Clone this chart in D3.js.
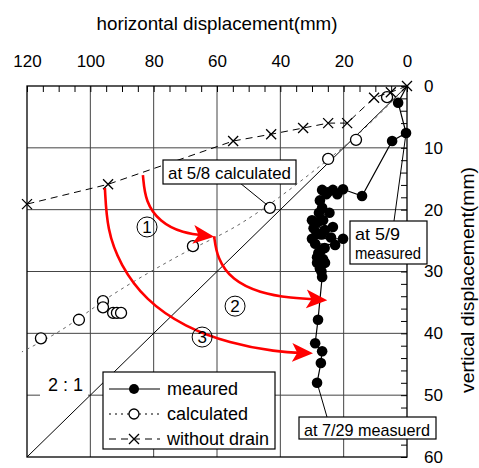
<!DOCTYPE html>
<html>
<head>
<meta charset="utf-8">
<title>displacement path</title>
<script src="https://cdn.jsdelivr.net/npm/d3@7"></script>
<style>
body { margin: 0; background: #fff; }
text { font-family: "Liberation Sans", Arial, sans-serif; }
</style>
</head>
<body>
<script>
// all values in mm: H = horizontal displacement, V = vertical displacement
var measH = [0, 2.8, 0.3, 4.7, 14.2, 20.2, 23.4, 25.0, 26.8, 22.0, 25.5, 27.5, 26.8, 27.8, 24.5, 30.0, 26.5, 28.1, 29.5, 23.4, 25.9, 28.5, 27.0, 24.0, 30.0, 20.2, 22.7, 29.0, 26.0, 27.0, 28.4, 28.0, 25.9, 26.5, 28.4, 27.5, 27.0, 26.8, 28.1, 29.0, 26.8, 27.2, 28.4];
var measV = [0, 2.7, 7.6, 8.9, 17.8, 16.7, 16.8, 17.2, 16.8, 17.5, 17.5, 18.5, 19.7, 20.5, 20.5, 21.7, 21.7, 22.0, 23.0, 22.8, 23.3, 23.8, 24.0, 24.5, 24.7, 24.7, 25.7, 25.5, 26.2, 26.5, 27.7, 27.0, 28.6, 28.0, 28.6, 29.5, 30.0, 30.9, 37.8, 41.6, 42.9, 44.8, 48.0];

var calcH = [6.3, 16.1, 24.9, 43.3, 67.6, 96.0, 96.0, 92.8, 91.6, 90.3, 103.6, 115.6];
var calcV = [1.8, 8.7, 11.8, 19.7, 25.9, 34.8, 35.8, 36.7, 36.7, 36.7, 37.8, 40.8];
var calcCurveH = [0, 13.3, 30.6, 52.4, 73.3, 92.2, 110.2, 121.6];
var calcCurveV = [0, 6.8, 14.2, 22.2, 27.8, 33.5, 39.8, 43.0];

var noDrainH = [0, 5.1, 10.4, 18.9, 24.9, 32.8, 42.9, 54.9, 94.4, 120];
var noDrainV = [0, 1.0, 1.9, 6.0, 6.0, 6.8, 7.8, 8.9, 15.9, 19.1];

var ratioH = [0, 120];
var ratioV = [0, 60];

var xTicks = [0, 20, 40, 60, 80, 100, 120];
var yTicks = [0, 10, 20, 30, 40, 50, 60];

// red arrows (sketched paths), in mm
var arrows = [
  {h: [83.4, 82.6, 78.0, 71.1, 62.2], v: [14.4, 18.8, 22.0, 23.8, 24.3]},
  {h: [60.9, 60.0, 55.3, 46.4, 36.9, 26.5], v: [24.3, 27.8, 31.4, 33.5, 34.3, 34.6]},
  {h: [95.4, 94.7, 90.6, 82.7, 70.1, 55.9, 41.7, 31.0], v: [16.5, 23.3, 28.9, 34.6, 39.0, 41.6, 43.0, 43.2]}
];
var zoneNames = ["1", "2", "3"];
var zoneH = [82.1, 54.3, 64.7];
var zoneV = [22.8, 35.6, 40.6];

var W = 479, H = 468;
var pL = 27, pR = 407, pT = 86, pB = 457;

var svg = d3.select("body").append("svg")
  .attr("width", W).attr("height", H);

var x = d3.scaleLinear().domain([120, 0]).range([pL, pR]);
var y = d3.scaleLinear().domain([0, 60]).range([pT, pB]);

function pts(hs, vs) { return hs.map(function(h, i) { return [h, vs[i]]; }); }
var line = d3.line().x(function(d) { return x(d[0]); }).y(function(d) { return y(d[1]); });

// grid
svg.append("g").selectAll("line").data(xTicks.slice(1, -1)).enter().append("line")
  .attr("x1", x).attr("x2", x).attr("y1", pT).attr("y2", pB)
  .attr("stroke", "#444").attr("stroke-width", 1);
svg.append("g").selectAll("line").data(yTicks.slice(1, -1)).enter().append("line")
  .attr("y1", y).attr("y2", y).attr("x1", pL).attr("x2", pR)
  .attr("stroke", "#444").attr("stroke-width", 1);

// axes
var topAxis = d3.axisTop(x).tickValues(d3.range(0, 121, 5))
  .tickSizeInner(-6).tickSizeOuter(0).tickPadding(19)
  .tickFormat(function(d) { return d % 20 === 0 ? d : ""; });
var gt = svg.append("g").attr("transform", "translate(0," + pT + ")").call(topAxis);
gt.select(".domain").remove();
gt.selectAll("text").attr("font-size", 17).attr("font-family", "Liberation Sans, Arial, sans-serif").attr("fill", "#000");

var rightAxis = d3.axisRight(y).tickValues(d3.range(0, 61, 2))
  .tickSizeInner(-6).tickSizeOuter(0).tickPadding(17)
  .tickFormat(function(d) { return d % 10 === 0 ? d : ""; });
var gr = svg.append("g").attr("transform", "translate(" + pR + ",0)").call(rightAxis);
gr.select(".domain").remove();
gr.selectAll("text").attr("font-size", 17).attr("font-family", "Liberation Sans, Arial, sans-serif").attr("fill", "#000");

svg.append("rect").attr("x", pL).attr("y", pT).attr("width", pR - pL).attr("height", pB - pT)
  .attr("fill", "none").attr("stroke", "#000").attr("stroke-width", 1.3);

// 2:1 line
svg.append("path").attr("d", line(pts(ratioH, ratioV)))
  .attr("stroke", "#000").attr("stroke-width", 1).attr("fill", "none");
svg.append("rect").attr("x", 40).attr("y", 370).attr("width", 48).attr("height", 26).attr("fill", "#fff");
svg.append("text").attr("x", 48).attr("y", 391).text("2 : 1")
  .attr("font-family", "Liberation Serif, serif").attr("font-size", 18);

// calculated curve + points
svg.append("path").attr("d", line.curve(d3.curveMonotoneX)(pts(calcCurveH, calcCurveV)))
  .attr("stroke", "#666").attr("stroke-width", 1).attr("stroke-dasharray", "3,4").attr("fill", "none");
line.curve(d3.curveLinear);
svg.append("g").selectAll("circle").data(pts(calcH, calcV)).enter().append("circle")
  .attr("cx", function(d) { return x(d[0]); }).attr("cy", function(d) { return y(d[1]); })
  .attr("r", 5.5).attr("fill", "#fff").attr("stroke", "#000").attr("stroke-width", 1.3);

// without drain
svg.append("path").attr("d", line(pts(noDrainH, noDrainV)))
  .attr("stroke", "#000").attr("stroke-width", 1).attr("stroke-dasharray", "7,5").attr("fill", "none");
function cross(g, cx, cy, s) {
  g.append("path").attr("d", "M" + (cx - s) + "," + (cy - s) + "L" + (cx + s) + "," + (cy + s) +
    "M" + (cx - s) + "," + (cy + s) + "L" + (cx + s) + "," + (cy - s))
    .attr("stroke", "#000").attr("stroke-width", 1.3).attr("fill", "none");
}
var gx = svg.append("g");
pts(noDrainH, noDrainV).forEach(function(d) { cross(gx, x(d[0]), y(d[1]), 5); });

// measured
svg.append("path").attr("d", line(pts(measH, measV)))
  .attr("stroke", "#000").attr("stroke-width", 1.2).attr("fill", "none");
svg.append("g").selectAll("circle").data(pts(measH, measV).slice(1)).enter().append("circle")
  .attr("cx", function(d) { return x(d[0]); }).attr("cy", function(d) { return y(d[1]); })
  .attr("r", 5.3).attr("fill", "#000");

// red arrows
svg.append("defs").append("marker").attr("id", "ah")
  .attr("viewBox", "0 0 20 20").attr("refX", 16).attr("refY", 10)
  .attr("markerWidth", 21).attr("markerHeight", 21).attr("markerUnits", "userSpaceOnUse")
  .attr("orient", "auto")
  .append("path").attr("d", "M0,1 L20,10 L0,19 L5,10 Z").attr("fill", "#f00");
var curved = d3.line().x(function(d) { return x(d[0]); }).y(function(d) { return y(d[1]); }).curve(d3.curveBasis);
arrows.forEach(function(a) {
  svg.append("path").attr("d", curved(pts(a.h, a.v)))
    .attr("stroke", "#f00").attr("stroke-width", 2.6).attr("fill", "none")
    .attr("marker-end", "url(#ah)");
});
zoneNames.forEach(function(n, i) {
  svg.append("circle").attr("cx", x(zoneH[i])).attr("cy", y(zoneV[i])).attr("r", 10)
    .attr("fill", "none").attr("stroke", "#000").attr("stroke-width", 1);
  svg.append("text").attr("x", x(zoneH[i])).attr("y", y(zoneV[i]) + 6).text(n)
    .attr("text-anchor", "middle").attr("font-family", "Liberation Serif, serif").attr("font-size", 17);
});

// callout labels
function callout(bx, by, bw, bh, lines, tl) {
  svg.append("rect").attr("x", bx).attr("y", by).attr("width", bw).attr("height", bh)
    .attr("fill", "#fff").attr("stroke", "#000").attr("stroke-width", 1.2);
  lines.forEach(function(s, i) {
    svg.append("text").attr("x", bx + 5).attr("y", by + 19 + i * 19).text(s)
      .attr("font-family", "DejaVu Sans Condensed, DejaVu Sans, sans-serif").attr("font-size", 17)
      .attr("textLength", tl[i]).attr("lengthAdjust", "spacingAndGlyphs");
  });
}
svg.append("line").attr("x1", 240).attr("y1", 183).attr("x2", x(calcH[3]) - 3).attr("y2", y(calcV[3]) - 3)
  .attr("stroke", "#000").attr("stroke-width", 1);
callout(163, 160, 133, 24, ["at 5/8 calculated"], [123]);
svg.append("line").attr("x1", 394).attr("y1", 221).attr("x2", x(measH[2])).attr("y2", y(measV[2]))
  .attr("stroke", "#000").attr("stroke-width", 1);
callout(350, 221, 77, 43, ["at 5/9", "measured"], [45, 66]);
svg.append("line").attr("x1", 327).attr("y1", 417).attr("x2", x(measH[measH.length - 1])).attr("y2", y(measV[measV.length - 1]))
  .attr("stroke", "#000").attr("stroke-width", 1);
callout(299, 417, 137, 22, ["at 7/29 measuerd"], [126]);

// legend
var lg = svg.append("g");
lg.append("rect").attr("x", 103).attr("y", 372).attr("width", 172).attr("height", 77)
  .attr("fill", "#fff").attr("stroke", "#000").attr("stroke-width", 1.2);
var legNames = ["meaured", "calculated", "without drain"];
var legY = [389, 414, 439];
var legDash = [null, "2,4", "7,5"];
legNames.forEach(function(n, i) {
  lg.append("line").attr("x1", 109).attr("x2", 160).attr("y1", legY[i]).attr("y2", legY[i])
    .attr("stroke", "#000").attr("stroke-width", 1.2).attr("stroke-dasharray", legDash[i]);
  lg.append("text").attr("x", 167).attr("y", legY[i] + 6).text(n).attr("font-size", 18);
});
lg.append("circle").attr("cx", 134).attr("cy", legY[0]).attr("r", 5).attr("fill", "#000");
lg.append("circle").attr("cx", 134).attr("cy", legY[1]).attr("r", 5).attr("fill", "#fff").attr("stroke", "#000").attr("stroke-width", 1.3);
cross(lg, 134, legY[2], 5);

// axis titles
svg.append("text").attr("x", 217).attr("y", 30).attr("text-anchor", "middle")
  .text("horizontal displacement(mm)")
  .attr("font-family", "DejaVu Sans, sans-serif").attr("font-size", 19)
  .attr("textLength", 241).attr("lengthAdjust", "spacingAndGlyphs");
svg.append("text").attr("transform", "translate(474,280) rotate(-90)").attr("text-anchor", "middle")
  .text("vertical displacement(mm)")
  .attr("font-family", "DejaVu Sans, sans-serif").attr("font-size", 19)
  .attr("textLength", 226).attr("lengthAdjust", "spacingAndGlyphs");
</script>
</body>
</html>
